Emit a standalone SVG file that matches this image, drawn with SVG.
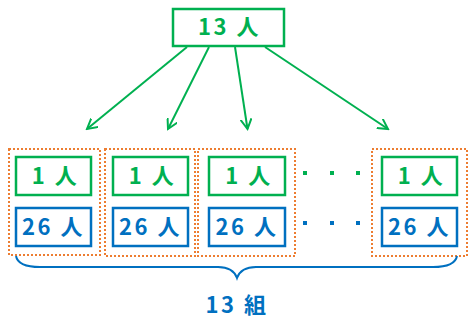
<svg xmlns="http://www.w3.org/2000/svg" width="473" height="323" viewBox="0 0 473 323">
<defs>
<marker id="arr" markerWidth="12" markerHeight="12" viewBox="-10 -6 12 12" refX="0" refY="0" orient="auto" markerUnits="userSpaceOnUse">
<polyline points="-10,-5.5 0,0 -10,5.5" fill="none" stroke="#00B050" stroke-width="2"/>
</marker>
<style>
.g{fill:#fff;stroke:#00B050;stroke-width:2.5}
.b{fill:#fff;stroke:#0070C0;stroke-width:2.5}
.grp{fill:none;stroke:#ED7D31;stroke-width:2;stroke-dasharray:2 2}
.t{font-family:"Noto Sans CJK JP","Noto Sans",sans-serif;font-weight:bold;font-size:22px;letter-spacing:2.5px;text-anchor:middle}
.tg{fill:#00B050}
.tb{fill:#0070C0}
.ar{stroke:#00B050;stroke-width:2;fill:none;marker-end:url(#arr)}
</style>
</defs>
<rect width="473" height="323" fill="#fff"/>
<g id="top">
<rect class="g" x="173" y="9" width="111" height="37"/>
<text class="t tg" x="229.5" y="35">13 人</text>
</g>
<g id="connectors">
<line class="ar" x1="187" y1="47" x2="87" y2="129"/>
<line class="ar" x1="209" y1="47" x2="168" y2="129"/>
<line class="ar" x1="235" y1="47" x2="247.5" y2="129"/>
<line class="ar" x1="265" y1="47" x2="388" y2="129"/>
</g>
<g id="group1">
<rect class="grp" x="9" y="149" width="91" height="106"/>
<rect class="g" x="16" y="157" width="75" height="38"/>
<text class="t tg" x="55.5" y="184">1 人</text>
<rect class="b" x="16" y="208" width="75" height="38"/>
<text class="t tb" x="53.5" y="235">26 人</text>
</g>
<g id="group2">
<rect class="grp" x="105" y="149" width="90" height="107"/>
<rect class="g" x="113" y="157" width="75" height="38"/>
<text class="t tg" x="152.5" y="184">1 人</text>
<rect class="b" x="113" y="208" width="75" height="38"/>
<text class="t tb" x="150.5" y="235">26 人</text>
</g>
<g id="group3">
<rect class="grp" x="198" y="149" width="97" height="107"/>
<rect class="g" x="209" y="157" width="76" height="38"/>
<text class="t tg" x="249" y="184">1 人</text>
<rect class="b" x="209" y="208" width="76" height="38"/>
<text class="t tb" x="247" y="235">26 人</text>
</g>
<g id="dots">
<rect x="303" y="171" width="4" height="4" fill="#00B050"/>
<rect x="330" y="171" width="4" height="4" fill="#00B050"/>
<rect x="356" y="171" width="4" height="4" fill="#00B050"/>
<rect x="303" y="221" width="4" height="4" fill="#0070C0"/>
<rect x="330" y="221" width="4" height="4" fill="#0070C0"/>
<rect x="356" y="221" width="4" height="4" fill="#0070C0"/>
</g>
<g id="group13">
<rect class="grp" x="372" y="149" width="95" height="107"/>
<rect class="g" x="382" y="157" width="75" height="38"/>
<text class="t tg" x="421.5" y="184">1 人</text>
<rect class="b" x="382" y="208" width="75" height="38"/>
<text class="t tb" x="419.5" y="235">26 人</text>
</g>
<g id="brace">
<path d="M16,256 Q18,267 40,267 L218,267 Q233,267 237,278 Q241,267 256,267 L433,267 Q455,267 457,256" fill="none" stroke="#0070C0" stroke-width="2"/>
<text class="t tb" x="237" y="313">13 組</text>
</g>
</svg>
